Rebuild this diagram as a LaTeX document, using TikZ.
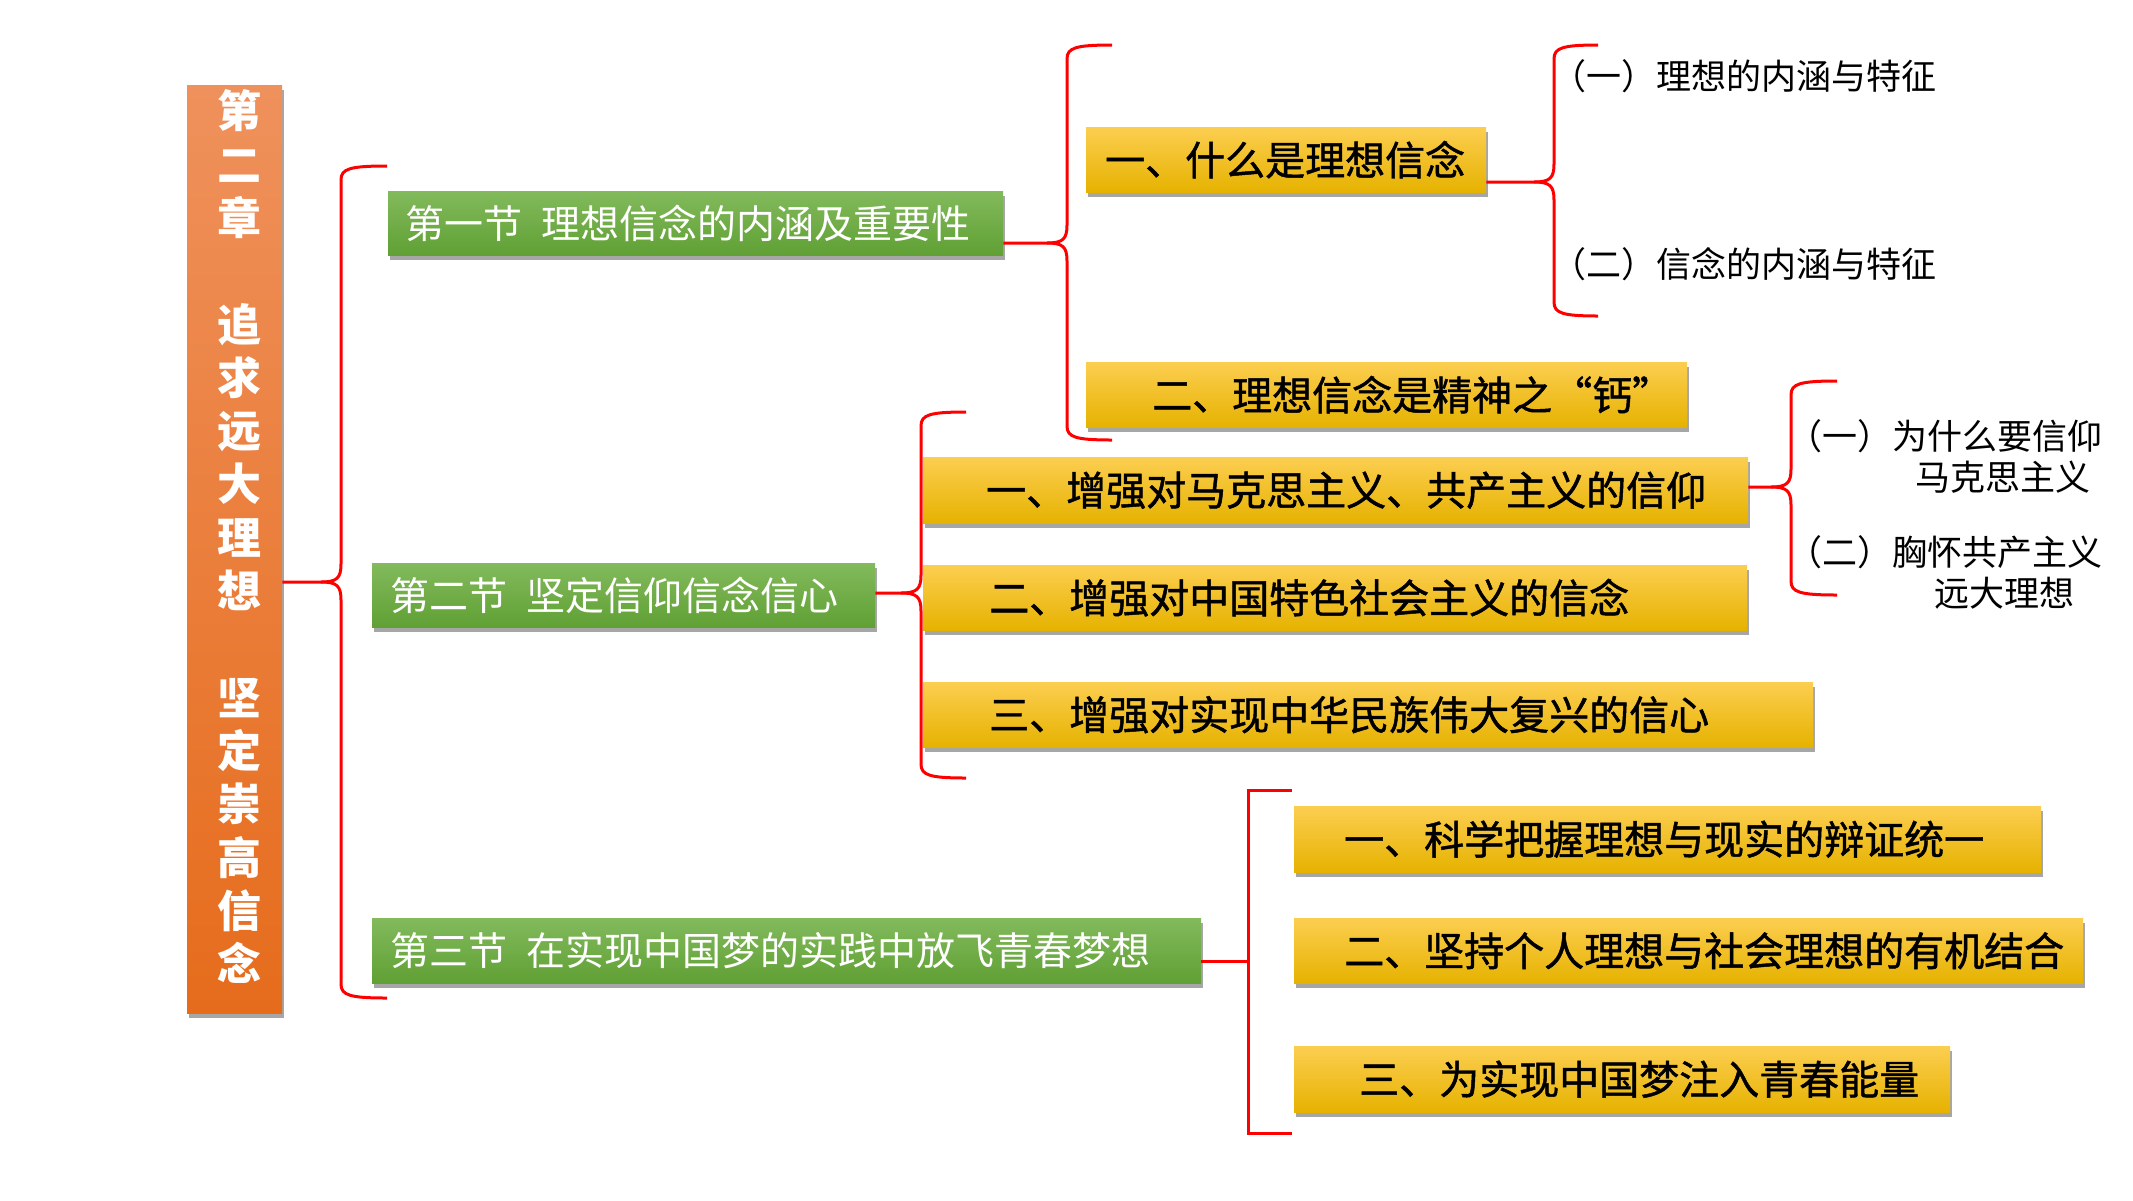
\documentclass[tikz,border=0pt]{standalone}
\usepackage{fontspec}
\setmainfont{Noto Sans CJK SC}
\newfontfamily\heavycjk[FakeBold=1.2]{Noto Sans CJK SC}
\usetikzlibrary{shadows}
\definecolor{lnred}{RGB}{255,0,0}
\definecolor{yTop}{RGB}{252,206,80}
\definecolor{yMid}{RGB}{255,193,0}
\definecolor{yBot}{RGB}{230,178,0}
\definecolor{gTop}{RGB}{130,186,92}
\definecolor{gBot}{RGB}{96,160,52}
\definecolor{oTop}{RGB}{239,145,92}
\definecolor{oMid}{RGB}{242,128,48}
\definecolor{oBot}{RGB}{230,108,28}
\newcommand\curlybrace[6]{%
  \draw[brace] (#1) -- ({#2-20},#5) .. controls ({#2-4},#5) and (#2,{#5-4}) .. (#2,{#5-18})
    -- (#2,{#3+14}) .. controls (#2,{#3+3}) and ({#2+8},#3) .. (#6,#3);
  \draw[brace] ({#2-20},#5) .. controls ({#2-4},#5) and (#2,{#5+4}) .. (#2,{#5+18})
    -- (#2,{#4-14}) .. controls (#2,{#4-3}) and ({#2+8},#4) .. (#6,#4);}
\begin{document}
\begin{tikzpicture}[x=1pt,y=-1pt,
  brace/.style={draw=lnred,line width=3pt,line join=round},
  shad/.style={drop shadow={shadow xshift=2pt,shadow yshift=-5pt,fill=black,opacity=0.35}},
  ybox/.style={shad,anchor=north west,inner xsep=0pt,inner ysep=0pt,align=left,
    top color=yTop,middle color=yMid,bottom color=yBot,text=black,
    font=\heavycjk\fontsize{40}{48}\selectfont},
  gbox/.style={shad,anchor=north west,inner xsep=0pt,inner ysep=0pt,align=left,
    top color=gTop,bottom color=gBot,text=white,
    font=\fontsize{39}{47}\selectfont},
  plain/.style={anchor=west,inner sep=0pt,align=left,text=black,
    font=\fontsize{35}{41}\selectfont}]
\useasboundingbox (0,0) rectangle (2133,1200);

% chapter bar
\node[shad,anchor=north west,minimum width=95pt,minimum height=928pt,inner sep=0pt,
  top color=oTop,middle color=oMid,bottom color=oBot,text=white] (bar) at (187,85)
  {\hspace*{10pt}\raisebox{10pt}[0pt][0pt]{\parbox{60pt}{\centering\fontsize{44}{53.3}\selectfont\bfseries
  第\\二\\章\\[53.3pt]追\\求\\远\\大\\理\\想\\[53.3pt]坚\\定\\崇\\高\\信\\念}}};

% sections
\node[gbox,text width=615pt,minimum height=64pt] (s1) at (388,191)
  {\hspace*{17pt}第一节\hspace{0.5em}理想信念的内涵及重要性};
\node[gbox,text width=503pt,minimum height=64pt] (s2) at (372,563)
  {\hspace*{18pt}第二节\hspace{0.5em}坚定信仰信念信心};
\node[gbox,text width=829pt,minimum height=65pt] (s3) at (372,918)
  {\hspace*{18pt}第三节\hspace{0.5em}在实现中国梦的实践中放飞青春梦想};

% items
\node[ybox,text width=400pt,minimum height=65pt] (y1) at (1086,127)
  {\hspace*{19pt}一、什么是理想信念};
\node[ybox,text width=601pt,minimum height=65pt] (y2) at (1086,362)
  {\hspace*{66pt}二、理想信念是精神之“钙”};
\node[ybox,text width=825pt,minimum height=66pt] (y3) at (923,457)
  {\hspace*{63pt}一、增强对马克思主义、共产主义的信仰};
\node[ybox,text width=824pt,minimum height=65pt] (y4) at (923,565)
  {\hspace*{66pt}二、增强对中国特色社会主义的信念};
\node[ybox,text width=890pt,minimum height=65pt] (y5) at (923,682)
  {\hspace*{66pt}三、增强对实现中华民族伟大复兴的信心};
\node[ybox,text width=747pt,minimum height=66pt] (y6) at (1294,806)
  {\hspace*{50pt}一、科学把握理想与现实的辩证统一};
\node[ybox,text width=789pt,minimum height=65pt] (y7) at (1294,918)
  {\hspace*{50pt}二、坚持个人理想与社会理想的有机结合};
\node[ybox,text width=656pt,minimum height=66pt] (y8) at (1294,1046)
  {\hspace*{65pt}三、为实现中国梦注入青春能量};

% sub items
\node[plain] (t1) at (1551,76) {（一）理想的内涵与特征};
\node[plain] (t2) at (1551,264) {（二）信念的内涵与特征};
\node[plain] (t3) at (1787,456) {（一）为什么要信仰\\\hspace*{3.67em}马克思主义};
\node[plain] (t4) at (1787,572) {（二）胸怀共产主义\\\hspace*{4.2em}远大理想};

% brace cusps
\coordinate (c0) at (341,582);
\coordinate (c1) at (1067,243);
\coordinate (c2) at (1554,182);
\coordinate (c3) at (921,593);
\coordinate (c4) at (1791,487);
\coordinate (c5) at (1248,961);

\curlybrace{bar.east |- c0}{341}{166}{998}{582}{387}
\curlybrace{s1.east |- c1}{1067}{45}{440}{243}{1112}
\curlybrace{y1.east |- c2}{1554}{45}{316}{182}{1598}
\curlybrace{s2.east |- c3}{921}{412}{778}{593}{966}
\curlybrace{y3.east |- c4}{1791}{381}{595}{487}{1837}

% square bracket for section 3
\coordinate (e5t) at (1292,790);
\coordinate (e5b) at (1292,1133);
\draw[brace,line join=miter] (s3.east |- c5) -- (c5);
\draw[brace,line join=miter] (e5t) -- (1248,790) -- (1248,1133) -- (e5b);
\end{tikzpicture}
\end{document}
